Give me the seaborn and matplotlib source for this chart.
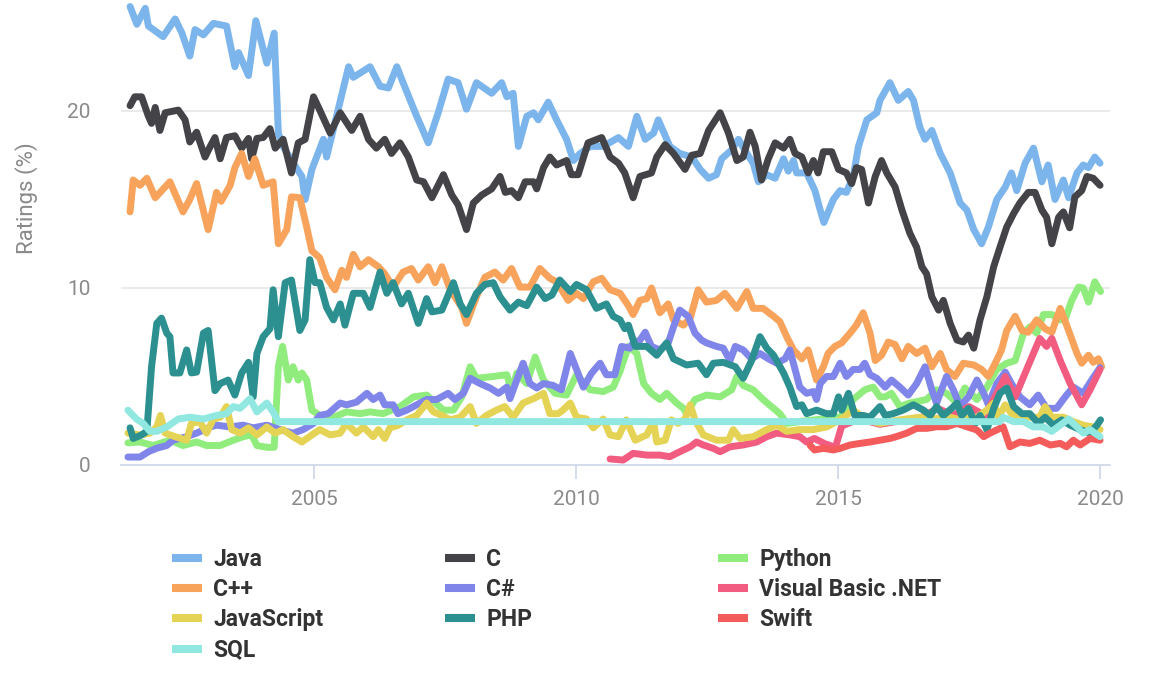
import matplotlib
matplotlib.use("Agg")
import matplotlib.pyplot as plt
from matplotlib.lines import Line2D
import pandas as pd
import seaborn as sns

# ---------------- data (year, rating %) ----------------
java = [(2001.49,25.9),(2001.62,24.9),(2001.78,25.8),(2001.84,24.8),(2002.12,24.2),(2002.35,25.2),(2002.48,24.4),(2002.63,23.1),(2002.73,24.6),(2002.89,24.3),(2003.08,24.95),(2003.33,24.8),(2003.49,22.5),(2003.56,23.3),(2003.75,22.0),(2003.89,25.1),(2004.10,22.7),(2004.24,24.4),(2004.32,18.75),(2004.41,18.0),(2004.57,17.2),(2004.77,16.3),(2004.83,15.0),(2004.96,16.7),(2005.18,18.4),(2005.24,17.4),(2005.43,19.7),(2005.66,22.5),(2005.75,21.9),(2006.07,22.5),(2006.26,21.4),(2006.42,21.3),(2006.58,22.5),(2006.70,21.6),(2006.96,19.7),(2007.05,19.1),(2007.18,18.2),(2007.37,19.9),(2007.56,21.8),(2007.75,21.6),(2007.91,20.1),(2008.10,21.6),(2008.39,21.0),(2008.58,21.6),(2008.68,20.8),(2008.80,21.0),(2008.90,18.0),(2009.06,19.7),(2009.19,19.9),(2009.28,19.5),(2009.47,20.5),(2009.63,19.5),(2009.82,18.4),(2009.95,17.2),(2010.08,17.6),(2010.27,18.0),(2010.52,18.0),(2010.81,18.5),(2011.00,18.0),(2011.16,19.7),(2011.32,18.4),(2011.48,18.75),(2011.57,19.5),(2011.79,18.0),(2011.98,17.6),(2012.21,17.4),(2012.37,16.7),(2012.53,16.2),(2012.68,16.4),(2012.78,17.3),(2012.97,17.8),(2013.10,18.4),(2013.26,17.6),(2013.38,17.05),(2013.48,16.0),(2013.64,16.4),(2013.80,16.2),(2013.96,17.3),(2014.05,16.6),(2014.15,17.2),(2014.21,16.5),(2014.40,16.5),(2014.56,15.5),(2014.66,14.4),(2014.73,13.7),(2014.91,15.0),(2015.04,15.5),(2015.16,15.4),(2015.29,16.3),(2015.39,18.0),(2015.55,19.5),(2015.74,19.9),(2015.80,20.6),(2015.99,21.6),(2016.15,20.6),(2016.34,21.1),(2016.44,20.6),(2016.56,19.1),(2016.66,18.4),(2016.79,18.9),(2016.95,17.6),(2017.14,16.5),(2017.33,14.8),(2017.46,14.4),(2017.59,13.3),(2017.74,12.5),(2017.87,13.45),(2018.03,15.0),(2018.19,15.7),(2018.31,16.5),(2018.41,15.5),(2018.57,17.05),(2018.73,17.9),(2018.89,16.0),(2019.01,16.95),(2019.14,15.0),(2019.30,16.1),(2019.40,15.1),(2019.56,16.5),(2019.68,16.95),(2019.78,16.8),(2019.90,17.4),(2020.00,17.05)]

c_lang = [(2001.49,20.3),(2001.58,20.8),(2001.71,20.8),(2001.84,19.7),(2001.90,19.3),(2001.97,20.2),(2002.06,18.9),(2002.16,19.9),(2002.41,20.05),(2002.54,19.5),(2002.63,18.25),(2002.76,18.8),(2002.92,17.4),(2003.02,18.0),(2003.11,18.5),(2003.21,17.3),(2003.33,18.5),(2003.49,18.6),(2003.62,17.9),(2003.75,18.45),(2003.81,17.3),(2003.91,18.45),(2004.03,18.5),(2004.16,19.0),(2004.26,17.9),(2004.41,18.4),(2004.57,16.5),(2004.70,18.2),(2004.83,18.4),(2004.99,20.8),(2005.11,20.05),(2005.31,18.75),(2005.50,19.9),(2005.72,18.9),(2005.88,19.7),(2006.04,18.4),(2006.19,17.9),(2006.35,18.4),(2006.48,17.6),(2006.64,18.2),(2006.80,17.4),(2006.96,16.1),(2007.09,16.0),(2007.25,15.1),(2007.47,16.4),(2007.63,15.25),(2007.75,14.7),(2007.91,13.3),(2008.04,14.8),(2008.20,15.25),(2008.39,15.6),(2008.55,16.3),(2008.65,15.4),(2008.77,15.5),(2008.90,15.1),(2009.03,16.0),(2009.19,16.0),(2009.25,15.6),(2009.38,16.8),(2009.50,17.4),(2009.63,16.95),(2009.82,17.2),(2009.91,16.4),(2010.04,16.4),(2010.23,18.2),(2010.49,18.5),(2010.65,17.4),(2010.81,17.05),(2010.93,16.5),(2011.09,15.1),(2011.22,16.3),(2011.44,16.5),(2011.54,17.4),(2011.70,18.1),(2011.86,17.6),(2012.08,16.7),(2012.21,17.5),(2012.37,17.6),(2012.53,18.9),(2012.75,19.9),(2012.91,18.75),(2013.07,17.2),(2013.19,17.4),(2013.32,18.8),(2013.42,18.0),(2013.54,16.1),(2013.67,17.3),(2013.80,18.2),(2013.96,17.9),(2014.08,18.4),(2014.18,17.6),(2014.31,17.4),(2014.43,16.5),(2014.53,17.2),(2014.62,16.5),(2014.72,17.7),(2014.88,17.7),(2015.01,16.7),(2015.16,16.5),(2015.26,15.9),(2015.35,16.8),(2015.45,16.7),(2015.58,14.8),(2015.71,16.3),(2015.83,17.2),(2015.93,16.5),(2016.09,15.7),(2016.22,14.4),(2016.37,13.1),(2016.50,12.3),(2016.60,11.2),(2016.69,10.8),(2016.79,9.5),(2016.92,8.75),(2017.01,9.3),(2017.14,8.0),(2017.27,7.06),(2017.39,6.95),(2017.49,7.34),(2017.59,6.6),(2017.71,8.2),(2017.84,9.5),(2017.97,11.2),(2018.09,12.3),(2018.22,13.45),(2018.35,14.2),(2018.47,14.8),(2018.63,15.4),(2018.76,15.4),(2018.89,14.4),(2018.98,14.0),(2019.08,12.5),(2019.21,14.0),(2019.30,14.3),(2019.42,13.4),(2019.52,15.15),(2019.65,15.5),(2019.75,16.3),(2019.87,16.2),(2020.00,15.8)]

python = [(2001.45,1.25),(2001.68,1.3),(2001.93,1.1),(2002.25,1.4),(2002.50,1.1),(2002.76,1.3),(2002.95,1.1),(2003.21,1.1),(2003.46,1.4),(2003.65,1.6),(2003.81,1.7),(2003.91,1.1),(2004.10,1.0),(2004.24,1.0),(2004.32,5.55),(2004.40,6.7),(2004.51,4.8),(2004.60,5.55),(2004.70,4.8),(2004.77,5.2),(2004.86,4.8),(2004.96,3.1),(2005.11,2.8),(2005.37,2.7),(2005.62,3.0),(2005.88,2.9),(2006.07,3.0),(2006.32,2.9),(2006.64,3.3),(2006.90,3.85),(2007.15,3.95),(2007.47,3.1),(2007.66,3.1),(2007.82,3.85),(2007.98,5.55),(2008.10,4.9),(2008.42,5.0),(2008.68,5.1),(2008.77,4.15),(2008.87,5.2),(2009.06,4.6),(2009.22,6.1),(2009.38,4.8),(2009.60,4.05),(2009.82,3.95),(2010.01,5.1),(2010.27,4.25),(2010.52,4.15),(2010.71,4.4),(2010.84,5.3),(2011.00,6.7),(2011.16,6.3),(2011.29,4.6),(2011.44,4.05),(2011.60,3.7),(2011.73,4.05),(2011.92,3.5),(2012.05,3.2),(2012.11,2.9),(2012.27,3.7),(2012.49,3.95),(2012.75,3.85),(2012.97,4.25),(2013.07,5.0),(2013.19,4.5),(2013.38,4.25),(2013.57,3.7),(2013.77,3.2),(2013.89,2.9),(2014.02,2.35),(2014.40,2.5),(2014.70,2.6),(2015.04,2.7),(2015.29,3.7),(2015.51,4.25),(2015.67,4.4),(2015.80,3.85),(2015.90,3.85),(2016.02,4.05),(2016.18,3.3),(2016.37,3.5),(2016.69,3.7),(2016.88,4.25),(2017.07,4.05),(2017.27,3.5),(2017.42,4.35),(2017.65,3.7),(2017.84,4.4),(2018.03,5.4),(2018.22,5.75),(2018.38,5.9),(2018.54,7.45),(2018.66,7.8),(2018.79,7.45),(2018.92,8.5),(2019.08,8.5),(2019.24,8.2),(2019.33,8.2),(2019.46,9.3),(2019.59,10.05),(2019.68,10.0),(2019.78,9.2),(2019.90,10.35),(2020.01,9.8)]

cpp = [(2001.49,14.3),(2001.55,16.1),(2001.68,15.8),(2001.81,16.2),(2001.97,15.1),(2002.25,16.0),(2002.50,14.3),(2002.63,15.0),(2002.76,15.9),(2002.98,13.3),(2003.14,15.4),(2003.23,14.9),(2003.40,15.8),(2003.49,16.8),(2003.62,17.6),(2003.75,16.3),(2003.87,17.3),(2004.03,15.8),(2004.22,16.0),(2004.32,12.5),(2004.48,13.3),(2004.57,15.15),(2004.73,15.1),(2004.86,13.45),(2004.96,12.1),(2005.11,11.7),(2005.24,10.6),(2005.40,9.9),(2005.53,11.0),(2005.62,10.6),(2005.75,11.9),(2005.88,11.2),(2006.04,11.6),(2006.23,11.2),(2006.35,10.8),(2006.51,10.05),(2006.70,10.9),(2006.86,11.1),(2006.99,10.45),(2007.18,11.2),(2007.31,10.3),(2007.44,11.2),(2007.60,9.9),(2007.82,8.9),(2007.91,8.0),(2008.10,9.5),(2008.26,10.6),(2008.45,10.9),(2008.61,10.45),(2008.77,11.1),(2008.93,10.05),(2009.12,10.05),(2009.31,11.1),(2009.50,10.55),(2009.63,10.35),(2009.85,9.3),(2010.01,9.7),(2010.14,9.4),(2010.33,10.35),(2010.49,10.55),(2010.65,9.9),(2010.84,9.7),(2011.00,9.0),(2011.09,8.5),(2011.22,9.3),(2011.35,9.4),(2011.44,10.0),(2011.60,8.6),(2011.76,9.1),(2011.86,8.2),(2012.05,7.9),(2012.18,8.3),(2012.33,9.9),(2012.49,9.2),(2012.68,9.3),(2012.84,9.7),(2013.07,8.85),(2013.26,9.8),(2013.38,8.85),(2013.57,8.85),(2013.77,8.4),(2013.89,8.1),(2014.02,7.25),(2014.15,6.5),(2014.31,6.0),(2014.43,6.5),(2014.59,4.8),(2014.72,5.55),(2014.81,6.3),(2014.94,6.7),(2015.07,6.9),(2015.23,7.45),(2015.35,7.9),(2015.48,8.6),(2015.61,7.45),(2015.71,5.9),(2015.83,6.2),(2015.96,6.95),(2016.09,6.8),(2016.22,6.0),(2016.34,6.7),(2016.50,6.3),(2016.66,6.6),(2016.79,5.55),(2016.95,6.3),(2017.07,5.4),(2017.23,5.0),(2017.39,5.75),(2017.59,5.65),(2017.74,5.4),(2017.87,5.0),(2018.00,5.75),(2018.12,6.5),(2018.22,7.6),(2018.38,8.4),(2018.51,7.6),(2018.63,7.5),(2018.79,8.2),(2018.95,7.7),(2019.08,7.5),(2019.24,8.85),(2019.40,7.6),(2019.56,6.3),(2019.65,5.75),(2019.78,6.2),(2019.87,5.8),(2019.97,6.0),(2020.03,5.55)]

csharp = [(2001.45,0.45),(2001.68,0.45),(2001.84,0.75),(2002.00,0.95),(2002.19,1.1),(2002.31,1.4),(2002.57,1.6),(2002.76,1.8),(2003.02,2.15),(2003.14,2.25),(2003.40,2.15),(2003.65,2.25),(2003.84,2.1),(2004.10,2.25),(2004.35,2.0),(2004.60,1.8),(2004.79,2.0),(2004.99,2.35),(2005.11,2.8),(2005.27,2.9),(2005.50,3.5),(2005.62,3.4),(2005.81,3.55),(2006.01,4.05),(2006.13,3.7),(2006.26,3.95),(2006.35,3.4),(2006.51,3.4),(2006.60,2.9),(2006.77,3.1),(2006.96,3.4),(2007.15,3.7),(2007.34,3.7),(2007.56,4.05),(2007.69,3.7),(2007.85,4.05),(2007.98,4.9),(2008.17,4.6),(2008.36,4.35),(2008.52,4.05),(2008.68,4.4),(2008.74,3.75),(2008.87,4.8),(2008.99,5.75),(2009.12,4.6),(2009.25,4.35),(2009.38,4.6),(2009.56,4.5),(2009.72,4.25),(2009.89,6.3),(2010.01,5.4),(2010.14,4.4),(2010.30,5.2),(2010.46,5.75),(2010.58,5.1),(2010.74,5.1),(2010.87,6.7),(2011.03,6.6),(2011.09,6.9),(2011.22,7.05),(2011.32,7.5),(2011.44,6.7),(2011.60,6.5),(2011.76,6.9),(2011.86,7.8),(2011.98,8.75),(2012.14,8.4),(2012.27,7.45),(2012.40,7.05),(2012.49,6.9),(2012.68,6.7),(2012.81,6.6),(2012.94,5.9),(2013.04,6.7),(2013.19,6.5),(2013.35,6.0),(2013.51,6.3),(2013.67,6.0),(2013.83,5.75),(2013.99,6.0),(2014.08,6.5),(2014.18,5.4),(2014.27,4.4),(2014.40,4.05),(2014.53,4.15),(2014.59,3.7),(2014.66,4.6),(2014.78,5.0),(2014.91,5.0),(2015.04,5.75),(2015.16,5.0),(2015.29,5.4),(2015.42,5.4),(2015.51,5.75),(2015.61,5.1),(2015.74,4.9),(2015.90,4.4),(2016.02,4.8),(2016.18,4.4),(2016.34,3.95),(2016.50,4.6),(2016.66,5.55),(2016.79,4.25),(2016.88,3.5),(2017.07,5.0),(2017.20,4.25),(2017.33,3.3),(2017.49,3.85),(2017.65,4.8),(2017.78,4.05),(2017.87,3.4),(2018.03,4.6),(2018.19,5.25),(2018.31,4.6),(2018.47,3.85),(2018.66,3.4),(2018.82,3.95),(2018.98,3.2),(2019.17,3.2),(2019.36,3.95),(2019.49,4.4),(2019.68,4.05),(2019.84,4.8),(2020.00,5.5)]

vbnet = [(2010.65,0.34),(2010.90,0.28),(2011.09,0.66),(2011.35,0.56),(2011.60,0.56),(2011.79,0.47),(2011.98,0.75),(2012.18,1.03),(2012.30,1.3),(2012.43,1.13),(2012.62,0.94),(2012.75,0.75),(2012.94,1.03),(2013.19,1.13),(2013.45,1.3),(2013.64,1.6),(2013.83,1.8),(2014.08,1.7),(2014.27,1.6),(2014.40,1.3),(2014.55,1.5),(2014.75,1.2),(2014.95,1.0),(2015.07,2.2),(2015.40,2.6),(2015.80,2.3),(2016.20,2.5),(2016.60,2.7),(2016.90,3.2),(2017.20,2.8),(2017.50,3.3),(2017.80,2.8),(2017.97,3.7),(2018.19,5.0),(2018.38,3.85),(2018.60,5.4),(2018.85,7.15),(2018.98,6.7),(2019.08,7.15),(2019.24,5.9),(2019.43,4.6),(2019.65,3.4),(2019.81,4.25),(2020.00,5.4)]

javascript = [(2001.45,1.8),(2001.68,1.7),(2001.87,1.8),(2002.00,2.15),(2002.07,2.8),(2002.16,1.8),(2002.35,1.6),(2002.57,1.4),(2002.66,2.35),(2002.82,2.45),(2002.95,1.8),(2003.08,2.6),(2003.21,2.7),(2003.33,3.3),(2003.43,2.0),(2003.59,1.8),(2003.75,2.1),(2003.91,1.7),(2004.10,2.15),(2004.26,1.8),(2004.41,2.0),(2004.60,1.6),(2004.77,1.3),(2004.96,1.7),(2005.11,2.0),(2005.31,1.7),(2005.50,1.8),(2005.62,2.35),(2005.81,1.8),(2005.94,2.15),(2006.13,1.6),(2006.23,2.0),(2006.35,1.5),(2006.45,2.1),(2006.61,2.25),(2006.77,2.55),(2006.96,2.8),(2007.15,3.5),(2007.28,3.0),(2007.44,2.8),(2007.60,2.55),(2007.79,2.7),(2007.98,3.3),(2008.10,2.35),(2008.29,2.8),(2008.48,3.1),(2008.64,3.3),(2008.80,2.7),(2008.99,3.5),(2009.19,3.75),(2009.38,4.05),(2009.50,2.9),(2009.66,2.9),(2009.75,3.1),(2009.89,3.5),(2010.01,2.7),(2010.20,2.6),(2010.33,2.1),(2010.52,2.6),(2010.65,1.7),(2010.81,1.6),(2010.96,2.55),(2011.13,1.4),(2011.35,1.7),(2011.48,2.45),(2011.54,1.3),(2011.70,1.4),(2011.82,2.55),(2011.95,2.35),(2012.08,2.6),(2012.18,3.4),(2012.27,2.55),(2012.43,1.7),(2012.68,1.4),(2012.91,1.4),(2013.00,2.0),(2013.13,1.5),(2013.38,1.6),(2013.64,2.0),(2013.83,2.25),(2014.02,1.9),(2014.27,2.0),(2014.53,2.0),(2014.78,2.15),(2015.04,2.55),(2015.29,3.1),(2015.55,2.55),(2015.80,2.35),(2016.18,2.55),(2016.56,2.7),(2016.81,2.6),(2017.14,2.7),(2017.33,2.55),(2017.65,2.7),(2017.84,3.1),(2017.97,3.5),(2018.06,2.7),(2018.19,3.4),(2018.31,2.9),(2018.47,2.7),(2018.66,2.7),(2018.85,2.7),(2018.95,3.3),(2019.08,2.7),(2019.30,2.7),(2019.49,2.45),(2019.68,2.25),(2019.87,2.15),(2020.00,2.0)]

php = [(2001.49,2.1),(2001.55,1.5),(2001.71,1.7),(2001.81,1.9),(2001.90,5.55),(2002.00,8.0),(2002.09,8.3),(2002.19,7.45),(2002.25,7.25),(2002.31,5.2),(2002.44,5.2),(2002.57,6.5),(2002.66,5.2),(2002.76,5.25),(2002.89,7.45),(2002.98,7.6),(2003.11,4.2),(2003.21,4.6),(2003.36,4.8),(2003.49,3.95),(2003.62,5.2),(2003.75,5.8),(2003.84,3.85),(2003.91,6.3),(2004.03,7.25),(2004.16,7.7),(2004.22,9.9),(2004.32,7.25),(2004.45,10.3),(2004.57,10.45),(2004.73,7.6),(2004.83,8.2),(2004.92,11.6),(2005.02,10.3),(2005.11,10.3),(2005.24,8.9),(2005.37,8.2),(2005.50,9.1),(2005.59,7.9),(2005.75,9.7),(2005.94,9.7),(2006.07,8.9),(2006.26,10.9),(2006.39,9.7),(2006.51,10.3),(2006.67,9.1),(2006.80,9.7),(2006.99,8.0),(2007.15,9.4),(2007.25,8.65),(2007.44,8.75),(2007.66,10.3),(2007.79,9.1),(2007.91,8.5),(2008.10,9.7),(2008.26,10.2),(2008.42,10.3),(2008.55,9.5),(2008.74,8.75),(2008.90,9.2),(2009.06,9.0),(2009.25,10.05),(2009.41,9.4),(2009.54,9.6),(2009.69,10.45),(2009.89,9.8),(2010.01,10.2),(2010.20,9.9),(2010.39,8.85),(2010.58,9.1),(2010.71,8.4),(2010.84,8.2),(2010.93,7.7),(2011.00,7.9),(2011.13,6.7),(2011.35,6.7),(2011.54,6.2),(2011.73,6.9),(2011.86,6.0),(2012.11,5.65),(2012.33,5.75),(2012.49,5.1),(2012.62,5.75),(2012.81,5.8),(2013.04,5.55),(2013.19,4.9),(2013.35,5.9),(2013.51,7.25),(2013.64,6.6),(2013.77,6.2),(2013.96,5.2),(2014.08,4.4),(2014.21,3.3),(2014.31,3.4),(2014.40,2.9),(2014.59,3.1),(2014.78,2.9),(2014.91,2.9),(2015.01,3.85),(2015.07,3.1),(2015.20,4.05),(2015.32,2.8),(2015.48,2.8),(2015.61,2.7),(2015.80,3.3),(2015.90,2.8),(2016.05,2.9),(2016.24,3.1),(2016.44,3.4),(2016.63,3.1),(2016.76,2.8),(2016.88,3.3),(2017.01,2.8),(2017.17,3.2),(2017.27,3.5),(2017.36,2.8),(2017.49,3.2),(2017.62,2.35),(2017.71,2.8),(2017.84,2.0),(2017.97,3.2),(2018.09,4.05),(2018.22,4.35),(2018.35,3.3),(2018.51,2.9),(2018.66,2.9),(2018.82,2.35),(2018.95,2.7),(2019.11,2.25),(2019.27,2.55),(2019.43,2.25),(2019.62,2.0),(2019.81,1.8),(2019.94,2.25),(2020.01,2.55)]

swift = [(2014.47,1.1),(2014.55,0.85),(2014.72,0.94),(2014.91,0.85),(2015.04,0.94),(2015.23,1.13),(2015.42,1.22),(2015.61,1.3),(2015.80,1.4),(2015.99,1.5),(2016.11,1.6),(2016.31,1.8),(2016.50,2.07),(2016.69,2.07),(2016.88,2.16),(2017.07,2.16),(2017.27,2.35),(2017.46,2.16),(2017.65,1.98),(2017.78,1.6),(2017.90,1.8),(2018.03,1.98),(2018.15,2.16),(2018.28,1.03),(2018.47,1.3),(2018.66,1.22),(2018.85,1.4),(2019.05,1.13),(2019.24,1.22),(2019.36,1.03),(2019.49,1.4),(2019.62,1.13),(2019.81,1.5),(2020.00,1.4)]

sql = [(2001.45,3.1),(2001.61,2.6),(2001.74,2.35),(2001.87,1.9),(2002.00,1.9),(2002.19,2.15),(2002.41,2.6),(2002.63,2.7),(2002.89,2.6),(2003.14,2.8),(2003.33,2.9),(2003.46,3.3),(2003.59,3.2),(2003.78,3.75),(2003.91,3.0),(2004.10,3.5),(2004.22,3.0),(2004.32,2.45),(2018.09,2.45),(2018.15,2.7),(2018.35,2.45),(2018.54,2.45),(2018.73,2.15),(2018.92,2.15),(2019.08,1.9),(2019.24,2.25),(2019.40,2.6),(2019.56,2.15),(2019.68,1.8),(2019.81,2.0),(2019.90,1.8),(2020.00,1.6)]

languages = ["Java", "C", "Python", "C++", "C#", "Visual Basic .NET",
             "JavaScript", "PHP", "Swift", "SQL"]
series = [java, c_lang, python, cpp, csharp, vbnet, javascript, php, swift, sql]
colors = ["#7cb5ec", "#434348", "#90ed7d", "#f7a35c", "#8085e9", "#f15c80",
          "#e4d354", "#2b908f", "#f45b5b", "#91e8e1"]
x_ticks = [2005, 2010, 2015, 2020]
y_ticks = [0, 10, 20]

rows = []
for name, pts in zip(languages, series):
    for yr, val in pts:
        rows.append((name, yr, val))
df = pd.DataFrame(rows, columns=["language", "year", "rating"])

# ---------------- figure ----------------
sns.set_theme(style="white")
plt.rcParams["font.family"] = ["Roboto", "DejaVu Sans"]

W, H = 1159, 676
fig = plt.figure(figsize=(W / 100, H / 100), dpi=100)
L, R, B, T = 121, 1110, 465, 0
ax = fig.add_axes([L / W, 1 - B / H, (R - L) / W, (B - T) / H])

sns.lineplot(data=df, x="year", y="rating", hue="language", hue_order=languages,
             palette=colors, estimator=None, sort=True, linewidth=5.0,
             legend=False, ax=ax, solid_joinstyle="round", solid_capstyle="round")

ax.set_xlim(2001.317, 2020.19)
ax.set_ylim(0, 26.27)
ax.set_yticks(y_ticks)
ax.set_xticks(x_ticks)
ax.set_xticklabels([str(t) for t in x_ticks])
ax.set_yticklabels([str(t) for t in y_ticks])

for t in [10, 20]:
    ax.axhline(t, color="#e6e6e6", lw=1.2, zorder=0)

for s in ["top", "right", "left"]:
    ax.spines[s].set_visible(False)
ax.spines["bottom"].set_color("#ccd6eb")
ax.spines["bottom"].set_linewidth(1.2)

ax.tick_params(axis="y", length=0, pad=22, labelsize=15, labelcolor="#8a8a8a")
ax.tick_params(axis="x", direction="out", length=10, width=1.2, color="#ccd6eb",
               pad=8, labelsize=15, labelcolor="#8a8a8a", bottom=True)

ax.set_xlabel("")
ax.set_ylabel("Ratings (%)", fontsize=16, color="#8a8a8a")
ax.yaxis.set_label_coords(-0.084, 0.574)

# ---------------- legend: three columns like the original ----------------
handles = {n: Line2D([0], [0], color=c, lw=5.8, solid_capstyle="butt")
           for n, c in zip(languages, colors)}
columns = [["Java", "C++", "JavaScript", "SQL"],
           ["C", "C#", "PHP"],
           ["Python", "Visual Basic .NET", "Swift"]]
col_x = [172, 445, 718]
for cx, names in zip(col_x, columns):
    leg = fig.legend([handles[n] for n in names], names, loc="upper left",
                     bbox_to_anchor=(cx / W, 1 - 548 / H), frameon=False,
                     borderpad=0, borderaxespad=0, handlelength=1.31,
                     handletextpad=0.48, labelspacing=0.315,
                     prop={"family": ["Roboto", "DejaVu Sans"], "weight": "bold", "size": 16.5})
    for txt in leg.get_texts():
        txt.set_color("#333333")

fig.savefig("out.png", dpi=100)
